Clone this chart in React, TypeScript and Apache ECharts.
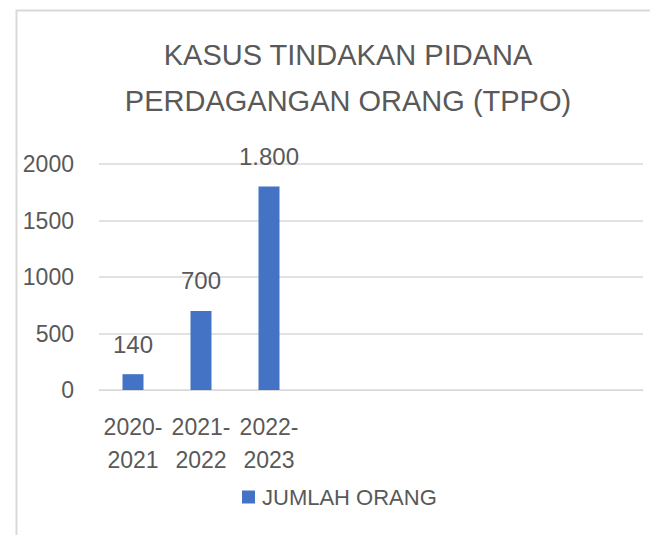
import React, { useEffect, useRef } from "react";
import * as echarts from "echarts";

const titleLines = ["KASUS TINDAKAN PIDANA", "PERDAGANGAN ORANG (TPPO)"];
const categories = ["2020-\n2021", "2021-\n2022", "2022-\n2023", "", "", "", "", ""];
const seriesName = "JUMLAH ORANG";
const values = [140, 700, 1800];
const yMin = 0;
const yMax = 2000;
const yInterval = 500;

const FONT = "'Liberation Sans', Arial, sans-serif";
const TEXT = "#595959";
const GRID = "#d9d9d9";
const BAR = "#4472C4";

function fmt(v: number): string {
  return String(v).replace(/\B(?=(\d{3})+(?!\d))/g, ".");
}

export default function App() {
  const ref = useRef<HTMLDivElement>(null);
  useEffect(() => {
    if (!ref.current) return;
    const chart = echarts.init(ref.current, null, { renderer: "svg" });
    chart.setOption({
      animation: false,
      backgroundColor: "#ffffff",
      textStyle: { fontFamily: FONT },
      title: {
        text: titleLines.join("\n"),
        left: 343,
        textAlign: "center",
        top: 27,
        textStyle: {
          fontFamily: FONT,
          fontSize: 29,
          fontWeight: "normal",
          color: TEXT,
          lineHeight: 46,
        },
      },
      graphic: [
        {
          type: "rect",
          shape: { x: 16.5, y: 10.5, width: 700, height: 600 },
          style: { fill: "none", stroke: GRID, lineWidth: 2 },
          silent: true,
          z: -1,
        },
      ],
      legend: {
        data: [seriesName],
        left: 237,
        top: 480,
        itemWidth: 13,
        itemHeight: 13,
        icon: "rect",
        textStyle: {
          fontFamily: FONT,
          fontSize: 22,
          color: TEXT,
          lineHeight: 24,
          padding: [0, 0, 0, 2],
        },
      },
      grid: { left: 99, right: 7, top: 164, bottom: 145, containLabel: false },
      xAxis: {
        type: "category",
        data: categories,
        axisLine: { show: true, lineStyle: { color: GRID, width: 1 } },
        axisTick: { show: false },
        axisLabel: {
          interval: 0,
          margin: 20,
          fontFamily: FONT,
          fontSize: 23,
          lineHeight: 33,
          color: TEXT,
        },
      },
      yAxis: {
        type: "value",
        min: yMin,
        max: yMax,
        interval: yInterval,
        axisLine: { show: false },
        axisTick: { show: false },
        splitLine: { lineStyle: { color: GRID, width: 1.5 } },
        axisLabel: {
          margin: 25,
          fontFamily: FONT,
          fontSize: 23,
          color: TEXT,
          formatter: (v: number) => String(v),
        },
      },
      series: [
        {
          name: seriesName,
          type: "bar",
          data: values,
          barWidth: 21,
          itemStyle: { color: BAR },
          label: {
            show: true,
            position: "top",
            distance: 18,
            fontFamily: FONT,
            fontSize: 24,
            lineHeight: 24,
            color: TEXT,
            formatter: (p: any) => fmt(p.value),
          },
        },
      ],
    });
    return () => chart.dispose();
  }, []);
  return (
    <div
      ref={ref}
      style={{ position: "fixed", left: 0, top: 0, width: 650, height: 535 }}
    />
  );
}
